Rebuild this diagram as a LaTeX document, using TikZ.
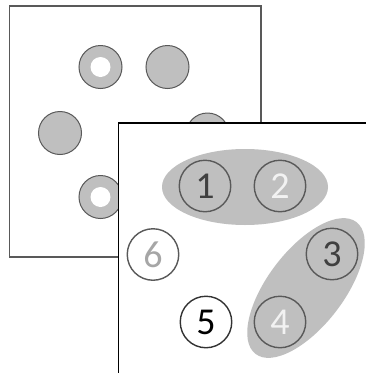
\documentclass[tikz,border=0pt]{standalone}
\usepackage{fontspec}
\setmainfont{Carlito}
\usetikzlibrary{shapes.geometric}
\definecolor{fillgray}{HTML}{BFBFBF}
\definecolor{linegray}{HTML}{595959}
\definecolor{darktext}{HTML}{404040}
\definecolor{lighttext}{HTML}{F2F2F2}
\definecolor{midtext}{HTML}{A6A6A6}
\begin{document}
\begin{tikzpicture}[x=1pt,y=-1pt,
  card/.style={line width=1.6pt, fill=white},
  dot/.style={circle, draw=linegray, line width=1pt, fill=fillgray, minimum size=43pt, inner sep=0pt},
  hole/.style={circle, fill=white, minimum size=20pt, inner sep=0pt},
  group/.style={ellipse, fill=fillgray, minimum width=166pt, minimum height=76pt, inner sep=0pt},
  num/.style={circle, draw=linegray, line width=1.4pt, minimum size=51.5pt, inner sep=0pt, font=\fontsize{38}{38}\selectfont},
]
\useasboundingbox (0,0) rectangle (366,373);
\begin{scope}
\clip (0,0) rectangle (366,373);
% back card
\draw[card, draw=linegray] (9.5,6) rectangle (261,257);
\node[dot] (d1) at (100.5,67) {};
\node[hole] (h1) at (100.5,67) {};
\node[dot] (d2) at (167.5,67) {};
\node[dot] (d3) at (60,133) {};
\node[dot] (d4) at (207.5,134.5) {};
\node[dot] (d5) at (100.5,197) {};
\node[hole] (h5) at (100.5,197) {};
% front card
\draw[card, draw=black] (118.5,123) rectangle (420,420);
% groups
\node[group] (ga) at (245,187) {};
\node[group, rotate=52.6] (gb) at (306,288) {};
% numbered circles
\node[num, text=darktext] (n1) at (205,186) {1};
\node[num, text=lighttext] (n2) at (280,186) {2};
\node[num, text=darktext] (n3) at (332,254) {3};
\node[num, text=lighttext] (n4) at (280,322) {4};
\node[num, draw=black!80, text=black] (n5) at (206,322) {5};
\node[num, text=midtext] (n6) at (153,254.5) {6};
\end{scope}
\end{tikzpicture}
\end{document}
